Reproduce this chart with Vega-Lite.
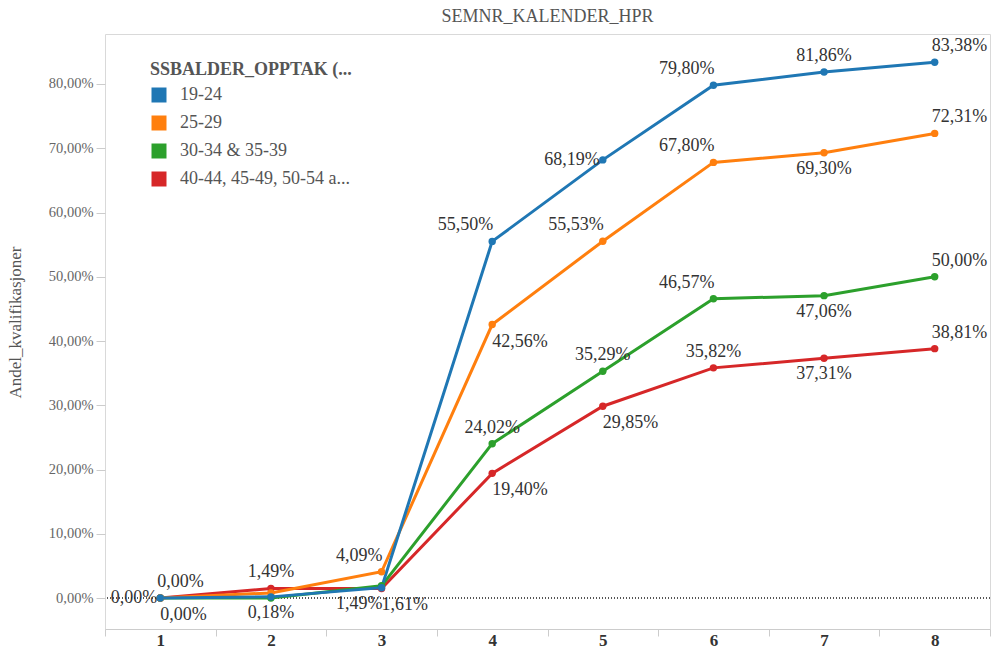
{
  "$schema": "https://vega.github.io/schema/vega-lite/v6.json",
  "width": 885,
  "height": 595,
  "autosize": {"type": "none"},
  "padding": {"left": 105, "top": 34, "right": 2, "bottom": 21},
  "background": "white",
  "title": {"text": "SEMNR_KALENDER_HPR", "anchor": "middle", "frame": "group", "font": "Liberation Serif", "fontSize": 18, "fontWeight": "normal", "color": "#555555", "offset": 8},
  "config": {
    "locale": {"number": {"decimal": ",", "thousands": " ", "grouping": [3], "currency": ["", " kr"]}},
    "view": {"stroke": "#d9d9d9", "strokeWidth": 1},
    "font": "Liberation Serif",
    "text": {"font": "Liberation Serif", "fontSize": 18, "color": "#333333"}
  },
  "data": {"values": [
    {"grp": "40-44, 45-49, 50-54 a...", "sem": 1, "andel": 0.0},
    {"grp": "40-44, 45-49, 50-54 a...", "sem": 2, "andel": 0.0149},
    {"grp": "40-44, 45-49, 50-54 a...", "sem": 3, "andel": 0.0149},
    {"grp": "40-44, 45-49, 50-54 a...", "sem": 4, "andel": 0.1940},
    {"grp": "40-44, 45-49, 50-54 a...", "sem": 5, "andel": 0.2985},
    {"grp": "40-44, 45-49, 50-54 a...", "sem": 6, "andel": 0.3582},
    {"grp": "40-44, 45-49, 50-54 a...", "sem": 7, "andel": 0.3731},
    {"grp": "40-44, 45-49, 50-54 a...", "sem": 8, "andel": 0.3881},
    {"grp": "30-34 & 35-39", "sem": 1, "andel": 0.0},
    {"grp": "30-34 & 35-39", "sem": 2, "andel": 0.0},
    {"grp": "30-34 & 35-39", "sem": 3, "andel": 0.019},
    {"grp": "30-34 & 35-39", "sem": 4, "andel": 0.2402},
    {"grp": "30-34 & 35-39", "sem": 5, "andel": 0.3529},
    {"grp": "30-34 & 35-39", "sem": 6, "andel": 0.4657},
    {"grp": "30-34 & 35-39", "sem": 7, "andel": 0.4706},
    {"grp": "30-34 & 35-39", "sem": 8, "andel": 0.5000},
    {"grp": "25-29", "sem": 1, "andel": 0.0},
    {"grp": "25-29", "sem": 2, "andel": 0.008},
    {"grp": "25-29", "sem": 3, "andel": 0.0409},
    {"grp": "25-29", "sem": 4, "andel": 0.4256},
    {"grp": "25-29", "sem": 5, "andel": 0.5553},
    {"grp": "25-29", "sem": 6, "andel": 0.6780},
    {"grp": "25-29", "sem": 7, "andel": 0.6930},
    {"grp": "25-29", "sem": 8, "andel": 0.7231},
    {"grp": "19-24", "sem": 1, "andel": 0.0},
    {"grp": "19-24", "sem": 2, "andel": 0.0018},
    {"grp": "19-24", "sem": 3, "andel": 0.0161},
    {"grp": "19-24", "sem": 4, "andel": 0.5550},
    {"grp": "19-24", "sem": 5, "andel": 0.6819},
    {"grp": "19-24", "sem": 6, "andel": 0.7980},
    {"grp": "19-24", "sem": 7, "andel": 0.8186},
    {"grp": "19-24", "sem": 8, "andel": 0.8338}
  ]},
  "transform": [{"calculate": "substring(datum.grp, 0, 1) + toString(datum.sem)", "as": "key"}],
  "encoding": {
    "x": {"field": "sem", "type": "ordinal", "scale": {"type": "band", "paddingInner": 0, "paddingOuter": 0},
      "axis": {"title": null, "labelAngle": 0, "tickBand": "extent", "ticks": true, "tickSize": 7, "tickColor": "#cccccc", "domainColor": "#cccccc", "labelFont": "Liberation Serif", "labelFontSize": 17, "labelFontWeight": "bold", "labelColor": "#333333", "labelPadding": -4}},
    "y": {"field": "andel", "type": "quantitative", "scale": {"domain": [-0.0482, 0.8778], "nice": false, "zero": false},
      "axis": {"title": "Andel_kvalifikasjoner", "values": [0, 0.1, 0.2, 0.3, 0.4, 0.5, 0.6, 0.7, 0.8], "format": ".2%", "grid": false, "domain": false, "tickSize": 9, "tickColor": "#cccccc", "labelFont": "Liberation Serif", "labelFontSize": 14.5, "labelColor": "#666666", "labelPadding": 3, "titleFont": "Liberation Serif", "titleFontSize": 17, "titleFontWeight": "normal", "titleColor": "#555555", "titlePadding": 24, "titleY": 288}}
  },
  "layer": [
    {"mark": {"type": "rule", "strokeDash": [1, 2], "color": "#555555", "strokeWidth": 1}, "encoding": {"y": {"datum": 0}, "x": null}},
    {"mark": {"type": "line", "strokeWidth": 3, "point": {"filled": true, "size": 55}},
      "encoding": {"color": {"field": "grp", "type": "nominal",
        "scale": {"domain": ["19-24", "25-29", "30-34 & 35-39", "40-44, 45-49, 50-54 a..."], "range": ["#1f77b4", "#ff7f0e", "#2ca02c", "#d62728"]},
        "legend": {"title": "SSBALDER_OPPTAK (...", "orient": "none", "legendX": 45, "legendY": 27, "titleFont": "Liberation Serif", "titleFontSize": 18, "titleFontWeight": "bold", "titleColor": "#555555", "titleLimit": 400, "labelFont": "Liberation Serif", "labelFontSize": 18, "labelColor": "#555555", "labelLimit": 400, "labelOffset": 12, "symbolType": "square", "symbolSize": 225, "symbolStrokeWidth": 0, "symbolOpacity": 1, "rowPadding": 10, "titlePadding": 7}}}},
    {"transform": [{"filter": "indexof(['42','34','35','46','17'], datum.key) >= 0"}],
      "mark": {"type": "text", "align": "center", "baseline": "middle", "dy": -16},
      "encoding": {"text": {"field": "andel", "type": "quantitative", "format": ".2%"}}},
    {"transform": [{"filter": "indexof(['23','14','25','16','26','36'], datum.key) >= 0"}],
      "mark": {"type": "text", "align": "right", "baseline": "middle", "dy": -16, "dx": 1},
      "encoding": {"text": {"field": "andel", "type": "quantitative", "format": ".2%"}}},
    {"transform": [{"filter": "indexof(['41','18','28','38','48'], datum.key) >= 0"}],
      "mark": {"type": "text", "align": "left", "baseline": "middle", "dy": -16, "dx": -3},
      "encoding": {"text": {"field": "andel", "type": "quantitative", "format": ".2%"}}},
    {"transform": [{"filter": "indexof(['12','27','37','47'], datum.key) >= 0"}],
      "mark": {"type": "text", "align": "center", "baseline": "middle", "dy": 16},
      "encoding": {"text": {"field": "andel", "type": "quantitative", "format": ".2%"}}},
    {"transform": [{"filter": "indexof(['11','13','24','44','45'], datum.key) >= 0"}],
      "mark": {"type": "text", "align": "left", "baseline": "middle", "dy": 17, "dx": 0},
      "encoding": {"text": {"field": "andel", "type": "quantitative", "format": ".2%"}}},
    {"transform": [{"filter": "indexof(['43'], datum.key) >= 0"}],
      "mark": {"type": "text", "align": "right", "baseline": "middle", "dy": 16, "dx": 1},
      "encoding": {"text": {"field": "andel", "type": "quantitative", "format": ".2%"}}},
    {"transform": [{"filter": "indexof(['21','15'], datum.key) >= 0"}],
      "mark": {"type": "text", "align": "right", "baseline": "middle", "dy": 0, "dx": -3},
      "encoding": {"text": {"field": "andel", "type": "quantitative", "format": ".2%"}}}
  ]
}
